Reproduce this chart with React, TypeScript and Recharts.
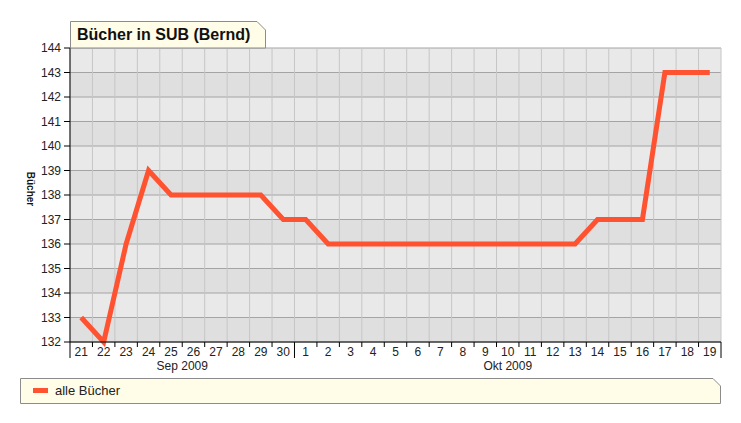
import { CartesianGrid, Line, LineChart, XAxis, YAxis } from "recharts";

// one entry per day, 21 Sep 2009 .. 19 Okt 2009
const dayLabels = [
  "21", "22", "23", "24", "25", "26", "27", "28", "29", "30",
  "1", "2", "3", "4", "5", "6", "7", "8", "9", "10",
  "11", "12", "13", "14", "15", "16", "17", "18", "19",
];
const books = [
  133, 132, 136, 139, 138, 138, 138, 138, 138, 137,
  137, 136, 136, 136, 136, 136, 136, 136, 136, 136,
  136, 136, 136, 137, 137, 137, 143, 143, 143,
];
const months = [
  { label: "Sep 2009", start: 0, end: 10 },
  { label: "Okt 2009", start: 10, end: 29 },
];
const yTicks = [132, 133, 134, 135, 136, 137, 138, 139, 140, 141, 142, 143, 144];
const seriesName = "alle Bücher";
const title = "Bücher in SUB (Bernd)";
const yTitle = "Bücher";

const data = dayLabels.map((d, i) => ({ x: i + 0.5, day: d, value: books[i] }));
const boundaries = dayLabels.map((_, i) => i).concat(dayLabels.length);
const xTicks = boundaries.flatMap((b) => (b < dayLabels.length ? [b, b + 0.5] : [b]));
const monthEdges = months.map((m) => m.start).concat(months[months.length - 1].end);

const FONT = "'Liberation Sans', Arial, sans-serif";
const LINE = "#ff5230";
const CREAM = "#fffce8";

function DayTick(props: any) {
  const { x, y, payload } = props;
  const v = payload.value as number;
  const month = months.find((m) => (m.start + m.end) / 2 === v);
  const isEdge = Number.isInteger(v);
  return (
    <g>
      {isEdge && (
        <line x1={x} x2={x} y1={y} y2={y + (monthEdges.includes(v) ? 16 : 5)} stroke="#000" />
      )}
      {!isEdge && (
        <text x={x} y={y + 14} textAnchor="middle" fontSize={12} fontFamily={FONT} fill="#222">
          {dayLabels[Math.floor(v)]}
        </text>
      )}
      {month && (
        <text x={x} y={y + 28} textAnchor="middle" fontSize={12} fontFamily={FONT} fill="#222">
          {month.label}
        </text>
      )}
    </g>
  );
}

function YTitle() {
  return (
    <text
      x={30}
      y={189}
      transform="rotate(90 30 189)"
      textAnchor="middle"
      dominantBaseline="central"
      fontSize={10}
      fontWeight="bold"
      fontFamily={FONT}
      fill="#111"
    >
      {yTitle}
    </text>
  );
}

export default function App() {
  return (
    <div style={{ position: "absolute", left: 0, top: 0, width: 741, height: 423, background: "#fff" }}>
      <LineChart width={741} height={423} data={data} margin={{ top: 48, right: 20, left: 30, bottom: 51 }}>
        <CartesianGrid
          vertical={false}
          stroke="#a4a4a4"
          horizontalFill={["#e9e9e9", "#dfdfdf"]}
          fillOpacity={1}
        />
        <CartesianGrid horizontal={false} verticalValues={boundaries} stroke="#c6c6c6" />
        <XAxis
          dataKey="x"
          type="number"
          domain={[0, dayLabels.length]}
          ticks={xTicks}
          interval={0}
          height={30}
          tickSize={0}
          tickMargin={0}
          tickLine={false}
          axisLine={{ stroke: "#000" }}
          tick={<DayTick />}
        />
        <YAxis
          type="number"
          domain={[132, 144]}
          ticks={yTicks}
          interval={0}
          width={40}
          tickSize={6}
          tickMargin={3}
          axisLine={{ stroke: "#000" }}
          tickLine={{ stroke: "#000" }}
          tick={{ fontSize: 12, fontFamily: FONT, fill: "#222" }}
          label={<YTitle />}
        />
        <Line
          dataKey="value"
          name={seriesName}
          type="linear"
          stroke={LINE}
          strokeWidth={5}
          strokeLinejoin="miter"
          dot={false}
          activeDot={false}
          isAnimationActive={false}
        />
      </LineChart>
      <svg width={741} height={423} style={{ position: "absolute", left: 0, top: 0, pointerEvents: "none" }}>
        <polygon points="70.5,48 70.5,21.5 257,21.5 265.5,30 265.5,48" fill={CREAM} stroke="#8c8c8c" />
        <text x={77} y={40} fontSize={16} fontWeight="bold" fontFamily={FONT} fill="#111">
          {title}
        </text>
        <polygon points="20.5,378.5 713,378.5 720.5,386 720.5,403.5 20.5,403.5" fill={CREAM} stroke="#8c8c8c" />
        <line x1={33} x2={48} y1={390.5} y2={390.5} stroke={LINE} strokeWidth={5} />
        <text x={55} y={395} fontSize={13} fontFamily={FONT} fill="#222">
          {seriesName}
        </text>
      </svg>
    </div>
  );
}
